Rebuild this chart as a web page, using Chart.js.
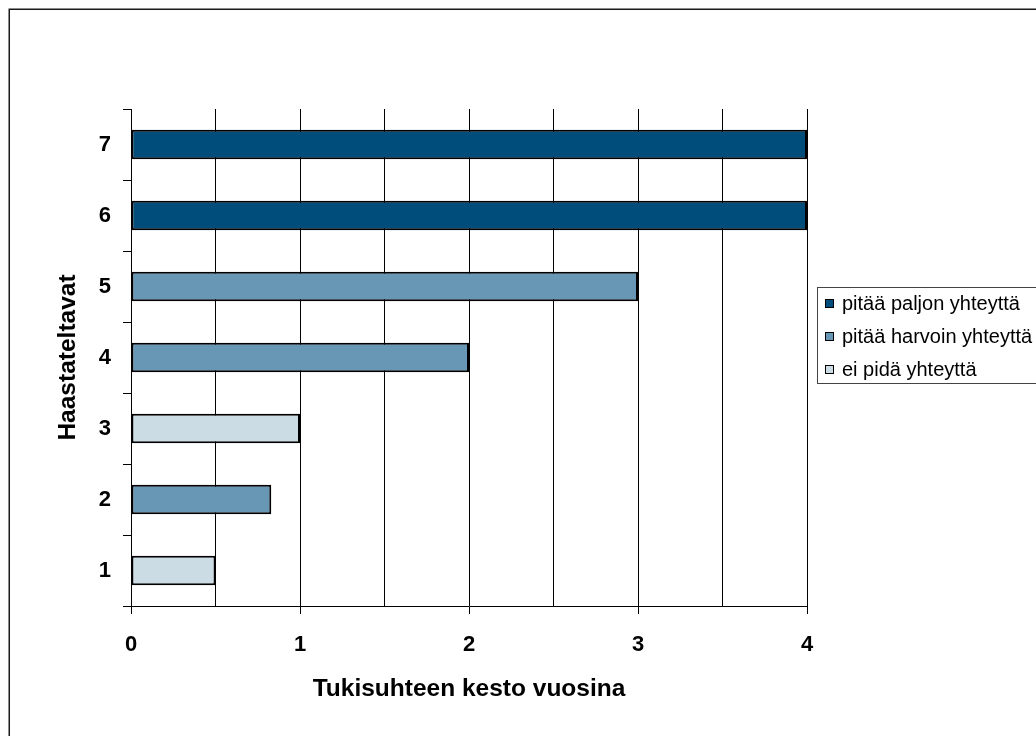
<!DOCTYPE html>
<html>
<head>
<meta charset="utf-8">
<script src="https://cdn.jsdelivr.net/npm/chart.js@4/dist/chart.umd.min.js"></script>
<style>
  html, body { margin: 0; padding: 0; background: #fff; }
  canvas { display: block; }
</style>
</head>
<body>
<canvas id="chart" width="1036" height="736"></canvas>
<script>
// data
const categories = ['1', '2', '3', '4', '5', '6', '7'];
const seriesNames = ['pitää paljon yhteyttä', 'pitää harvoin yhteyttä', 'ei pidä yhteyttä'];
const paljon = [null, null, null, null, null, 4, 4];
const harvoin = [null, 0.83, null, 2, 3, null, null];
const eiPida = [0.5, null, 1, null, null, null, null];
const colors = ['#004c7b', '#6897b5', '#cbdce5'];

Chart.defaults.font.family = "'Liberation Sans', Arial, sans-serif";
Chart.defaults.color = '#000';

// white page with the outer frame line
const framePlugin = {
    id: 'frame',
    beforeDraw(chart) {
        const ctx = chart.ctx;
        ctx.save();
        ctx.fillStyle = '#fff';
        ctx.fillRect(0, 0, chart.width, chart.height);
        ctx.strokeStyle = '#1a1a1a';
        ctx.lineWidth = 1.5;
        ctx.strokeRect(9.25, 9.25, chart.width + 20, chart.height + 20);
        ctx.restore();
    }
};

// boxed legend on the right, built from the datasets
const boxLegend = {
    id: 'boxLegend',
    afterDraw(chart) {
        const ctx = chart.ctx;
        ctx.save();
        ctx.strokeStyle = '#444';
        ctx.lineWidth = 1;
        ctx.strokeRect(817.5, 287.5, 240, 96);
        ctx.font = "20px 'Liberation Sans', Arial, sans-serif";
        ctx.textBaseline = 'middle';
        ctx.textAlign = 'left';
        chart.data.datasets.forEach((ds, i) => {
            const y = 303 + i * 33;
            ctx.fillStyle = ds.backgroundColor;
            ctx.fillRect(825, y - 4, 9, 9);
            ctx.strokeStyle = '#000';
            ctx.strokeRect(825.5, y - 3.5, 8, 8);
            ctx.fillStyle = '#000';
            ctx.fillText(ds.label, 842, y + 1);
        });
        ctx.restore();
    }
};

const barStyle = { borderColor: '#000', borderWidth: 2, borderSkipped: false, barPercentage: 0.417, categoryPercentage: 1 };

new Chart(document.getElementById('chart').getContext('2d'), {
    type: 'bar',
    data: {
        labels: categories,
        datasets: [
            { label: seriesNames[0], data: paljon, backgroundColor: colors[0], ...barStyle },
            { label: seriesNames[1], data: harvoin, backgroundColor: colors[1], ...barStyle },
            { label: seriesNames[2], data: eiPida, backgroundColor: colors[2], ...barStyle }
        ]
    },
    options: {
        indexAxis: 'y',
        responsive: false,
        animation: false,
        layout: { padding: { top: 109, right: 229, bottom: 0, left: 0 } },
        plugins: {
            legend: { display: false },
            tooltip: { enabled: false }
        },
        scales: {
            x: {
                stacked: true,
                min: 0,
                max: 4,
                afterFit(scale) { scale.height = 130; },
                border: { color: '#000', width: 1 },
                grid: {
                    color: '#000',
                    lineWidth: 1,
                    tickLength: 8,
                    tickColor: (c) => Number.isInteger(c.tick.value) ? '#000' : 'rgba(0,0,0,0)'
                },
                ticks: {
                    stepSize: 0.5,
                    padding: 18,
                    maxRotation: 0,
                    autoSkip: false,
                    font: { size: 22, weight: 'bold' },
                    callback: (v) => Number.isInteger(v) ? String(v) : ''
                },
                title: {
                    display: true,
                    text: 'Tukisuhteen kesto vuosina',
                    font: { size: 24.5, weight: 'bold' },
                    padding: { top: 0, bottom: 32 }
                }
            },
            y: {
                stacked: true,
                reverse: true,
                afterFit(scale) { scale.width = 131; },
                border: { color: '#000', width: 1 },
                grid: {
                    offset: true,
                    drawOnChartArea: false,
                    color: '#000',
                    tickLength: 8
                },
                ticks: {
                    padding: 12,
                    font: { size: 22, weight: 'bold' }
                },
                title: {
                    display: true,
                    text: 'Haastateltavat',
                    font: { size: 24.5, weight: 'bold' },
                    padding: { top: 54, bottom: 0 }
                }
            }
        }
    },
    plugins: [framePlugin, boxLegend]
});
</script>
</body>
</html>
